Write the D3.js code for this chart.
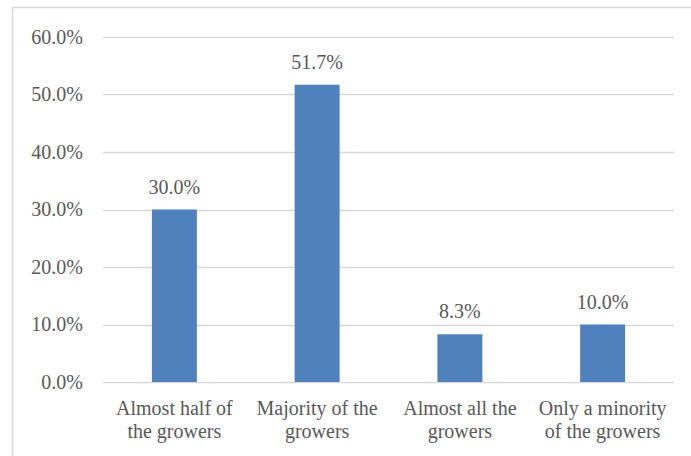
<!DOCTYPE html>
<html>
<head>
<meta charset="utf-8">
<script src="https://cdn.jsdelivr.net/npm/d3@7"></script>
</head>
<body style="margin:0;padding:0;background:#fff">
<svg id="chart" width="691" height="456" style="display:block"></svg>
<script>
// Share of growers, by category
const categories = [
  ["Almost half of", "the growers"],
  ["Majority of the", "growers"],
  ["Almost all the", "growers"],
  ["Only a minority", "of the growers"]
];
const values = [30.0, 51.7, 8.3, 10.0];
const yTicks = [0, 10, 20, 30, 40, 50, 60];

const FONT = "'Liberation Serif', 'Times New Roman', Tinos, serif";
const TEXT_COLOR = "#595959";
const fontSize = 20;

const svg = d3.select("#chart");

// apply the serif face to a text selection
function serif(sel) {
  sel.attr("font-family", FONT)
     .style("font-family", FONT, "important")
     .attr("font-size", fontSize)
     .attr("fill", TEXT_COLOR);
}

// outer chart frame
svg.append("rect")
  .attr("x", 12.5).attr("y", 7.5)
  .attr("width", 700).attr("height", 470)
  .attr("fill", "none")
  .attr("stroke", "#d9d9d9")
  .attr("stroke-width", 1.5);

const plot = { left: 103, right: 674, top: 37, bottom: 382 };

const x = d3.scaleBand()
  .domain(d3.range(categories.length))
  .range([plot.left, plot.right])
  .paddingInner(0.685)
  .paddingOuter(0.3425);

const y = d3.scaleLinear()
  .domain([0, 60])
  .range([plot.bottom, plot.top]);

// horizontal gridlines
svg.append("g")
  .selectAll("line")
  .data(yTicks)
  .join("line")
  .attr("x1", plot.left).attr("x2", plot.right)
  .attr("y1", d => Math.round(y(d)) + 0.5)
  .attr("y2", d => Math.round(y(d)) + 0.5)
  .attr("stroke", "#d9d9d9")
  .attr("stroke-width", 1.5);

// y axis labels
const yAxis = d3.axisLeft(y)
  .tickValues(yTicks)
  .tickSize(0)
  .tickPadding(20)
  .tickFormat(d => d.toFixed(1) + "%");

const yg = svg.append("g")
  .attr("transform", `translate(${plot.left},0)`)
  .call(yAxis);
yg.attr("font-family", FONT).attr("font-size", fontSize);
yg.select(".domain").remove();
yg.selectAll("text").call(serif);

// bars
svg.append("g")
  .selectAll("rect")
  .data(values)
  .join("rect")
  .attr("x", (d, i) => x(i))
  .attr("width", x.bandwidth())
  .attr("y", d => y(d))
  .attr("height", d => y(0) - y(d))
  .attr("fill", "#4f81bd");

// value labels
svg.append("g")
  .selectAll("text")
  .data(values)
  .join("text")
  .attr("x", (d, i) => x(i) + x.bandwidth() / 2)
  .attr("y", d => y(d) - 16)
  .attr("text-anchor", "middle")
  .call(serif)
  .text(d => d.toFixed(1) + "%");

// category labels, two lines each
const cat = svg.append("g")
  .selectAll("text")
  .data(categories)
  .join("text")
  .attr("x", (d, i) => x(i) + x.bandwidth() / 2)
  .attr("y", 415)
  .attr("text-anchor", "middle")
  .call(serif);
cat.selectAll("tspan")
  .data(d => d)
  .join("tspan")
  .attr("x", function() { return this.parentNode.getAttribute("x"); })
  .attr("dy", (d, i) => i === 0 ? 0 : 23)
  .style("font-family", FONT, "important")
  .text(d => d);
</script>
</body>
</html>
